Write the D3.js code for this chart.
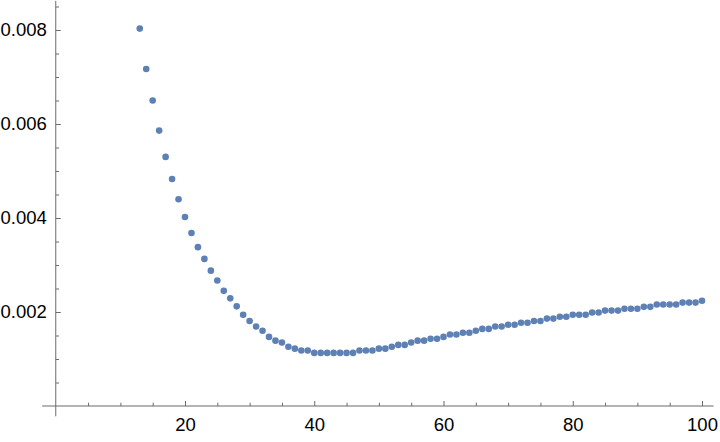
<!DOCTYPE html>
<html>
<head>
<meta charset="utf-8">
<script src="https://cdn.jsdelivr.net/npm/d3@7"></script>
<style>
  body { margin: 0; background: #fff; }
  text { font-family: "Liberation Sans", Arial, sans-serif; }
</style>
</head>
<body>
<div id="container"></div>
<script>
// data
var xValues = [13,14,15,16,17,18,19,20,21,22,23,24,25,26,27,28,29,30,31,32,33,34,35,36,37,38,39,
  40,41,42,43,44,45,46,47,48,49,50,51,52,53,54,55,56,57,58,59,60,61,62,63,64,65,66,67,68,69,
  70,71,72,73,74,75,76,77,78,79,80,81,82,83,84,85,86,87,88,89,90,91,92,93,94,95,96,97,98,99,100];
var yValues = [0.00803,0.00717,0.00650,0.00586,0.00530,0.00483,0.00440,0.00402,0.00368,0.00338,
  0.00313,0.00288,0.00267,0.00245,0.00229,0.00212,0.00194,0.00181,0.00169,0.00160,0.00147,0.00139,
  0.00135,0.00126,0.00122,0.00118,0.00118,
  0.00113,0.00113,0.00113,0.00113,0.00113,0.00113,0.00113,0.00118,0.00118,0.00118,
  0.00122,0.00122,0.00126,0.00130,0.00130,0.00135,0.00139,0.00139,0.00143,0.00143,
  0.00147,0.00152,0.00152,0.00156,0.00156,0.00160,0.00164,0.00164,0.00169,0.00169,
  0.00173,0.00173,0.00177,0.00177,0.00181,0.00181,0.00186,0.00186,0.00190,0.00190,
  0.00194,0.00194,0.00194,0.00199,0.00199,0.00203,0.00203,0.00203,0.00207,0.00207,0.00207,
  0.00211,0.00211,0.00216,0.00216,0.00216,0.00216,0.00220,0.00220,0.00220,0.00224];
var xMajor = [20,40,60,80,100];
var xMinor = [5,10,15,25,30,35,45,50,55,65,70,75,85,90,95];
var yMajor = [0.002,0.004,0.006,0.008];
var yMinor = [0.0005,0.001,0.0015,0.0025,0.003,0.0035,0.0045,0.005,0.0055,0.0065,0.007,0.0075,0.0085];

var width = 720, height = 442;
var axisColor = "#6b6b6b", dotColor = "#5e81b5";

var svg = d3.select("#container").append("svg")
  .attr("width", width)
  .attr("height", height);

var x = d3.scaleLinear().domain([0,100]).range([55.75,702]);
var y = d3.scaleLinear().domain([0,0.008]).range([406,30]);

var points = xValues.map(function(d,i){ return {x:d, y:yValues[i]}; });

// axis lines (Mathematica style, crossing at origin)
svg.append("line")
  .attr("x1", x(-2.1)).attr("x2", x(101.8))
  .attr("y1", y(0)).attr("y2", y(0))
  .attr("stroke", axisColor);
svg.append("line")
  .attr("x1", x(0)).attr("x2", x(0))
  .attr("y1", y(-0.00022)).attr("y2", y(0.00862))
  .attr("stroke", axisColor);

function styleAxis(g){
  g.select(".domain").remove();
  g.selectAll(".tick line").attr("stroke", axisColor);
  g.selectAll(".tick text").attr("fill", "#000").style("font-size","18.5px");
}

svg.append("g")
  .attr("transform","translate(0," + y(0) + ")")
  .call(d3.axisBottom(x).tickValues(xMajor).tickSize(-5).tickPadding(12).tickFormat(d3.format("d")))
  .call(styleAxis);
svg.append("g")
  .attr("transform","translate(0," + y(0) + ")")
  .call(d3.axisBottom(x).tickValues(xMinor).tickSize(-3.3).tickFormat(""))
  .call(styleAxis);

svg.append("g")
  .attr("transform","translate(" + x(0) + ",0)")
  .call(d3.axisLeft(y).tickValues(yMajor).tickSize(-5).tickPadding(9).tickFormat(d3.format(".3f")))
  .call(styleAxis);
svg.append("g")
  .attr("transform","translate(" + x(0) + ",0)")
  .call(d3.axisLeft(y).tickValues(yMinor).tickSize(-3.3).tickFormat(""))
  .call(styleAxis);

svg.selectAll("g .tick text").attr("font-family", null);

// points
svg.append("g")
  .selectAll("circle")
  .data(points)
  .enter()
  .append("circle")
    .attr("cx", d=>x(d.x))
    .attr("cy", d=>y(d.y))
    .attr("r", 3.3)
    .attr("fill", dotColor);
</script>
</body>
</html>
